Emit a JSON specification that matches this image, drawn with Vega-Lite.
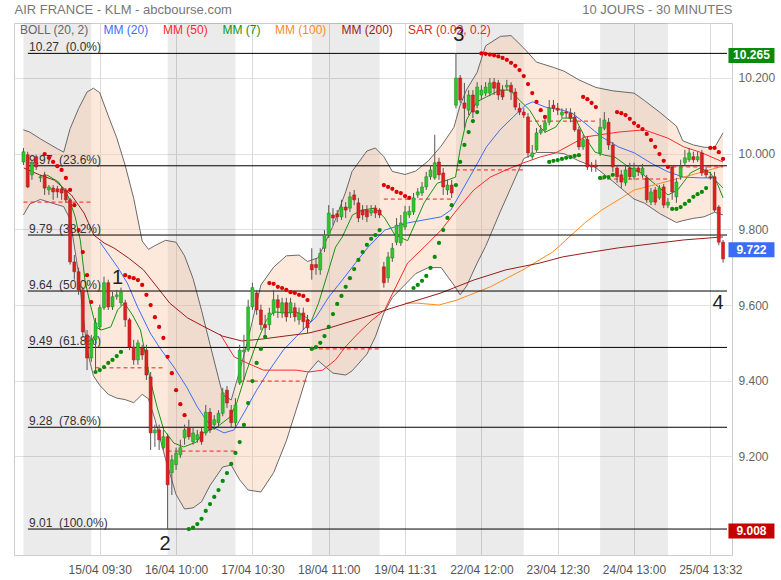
{
"$schema":"https://vega.github.io/schema/vega-lite/v6.json",
"width":718,"height":532,
"autosize":{"type":"none"},
"padding":{"left":14,"top":23,"right":49,"bottom":25},
"background":"white",
"config":{"view":{"stroke":"#cccccc","strokeWidth":1},"font":"Liberation Sans"},
"resolve":{"axis":{"x":"independent","y":"independent"}},
"datasets":{
"days":[{"a":0,"b":16},{"a":34,"b":50},{"a":68,"b":84},{"a":102,"b":118},{"a":136,"b":152}],
"boll":[{"i":0,"u":10.063,"l":9.838},{"i":1.5,"u":10.057,"l":9.867},{"i":4,"u":10.039,"l":9.879},{"i":8,"u":10.013,"l":9.865},{"i":9.5,"u":10.004,"l":9.86},{"i":11,"u":10.066,"l":9.827},{"i":13,"u":10.119,"l":9.683},{"i":15,"u":10.163,"l":9.481},{"i":16.5,"u":10.173,"l":9.413},{"i":18,"u":10.161,"l":9.388},{"i":20,"u":10.1,"l":9.364},{"i":22,"u":10.042,"l":9.354},{"i":24,"u":9.969,"l":9.35},{"i":26,"u":9.882,"l":9.342},{"i":28,"u":9.769,"l":9.364},{"i":29.5,"u":9.747,"l":9.352},{"i":31,"u":9.757,"l":9.298},{"i":33.5,"u":9.771,"l":9.194},{"i":36,"u":9.766,"l":9.099},{"i":38,"u":9.73,"l":9.061},{"i":40,"u":9.67,"l":9.064},{"i":42,"u":9.586,"l":9.08},{"i":44,"u":9.496,"l":9.123},{"i":47,"u":9.363,"l":9.172},{"i":49,"u":9.349,"l":9.177},{"i":51,"u":9.426,"l":9.138},{"i":53,"u":9.511,"l":9.111},{"i":56,"u":9.653,"l":9.106},{"i":59,"u":9.7,"l":9.157},{"i":62,"u":9.73,"l":9.241},{"i":65,"u":9.732,"l":9.347},{"i":67,"u":9.715,"l":9.42},{"i":69.5,"u":9.725,"l":9.453},{"i":73,"u":9.809,"l":9.42},{"i":76,"u":9.899,"l":9.415},{"i":77.5,"u":9.953,"l":9.426},{"i":81,"u":10.007,"l":9.47},{"i":83,"u":10.015,"l":9.516},{"i":85,"u":9.992,"l":9.579},{"i":87,"u":9.953,"l":9.62},{"i":90,"u":9.945,"l":9.654},{"i":92.5,"u":9.954,"l":9.683},{"i":95.5,"u":9.981,"l":9.699},{"i":98.5,"u":10.02,"l":9.699},{"i":101.5,"u":10.069,"l":9.653},{"i":103,"u":10.128,"l":9.627},{"i":104.5,"u":10.169,"l":9.65},{"i":107,"u":10.215,"l":9.711},{"i":109,"u":10.285,"l":9.755},{"i":112.5,"u":10.31,"l":9.848},{"i":115,"u":10.312,"l":9.911},{"i":118,"u":10.279,"l":9.987},{"i":121,"u":10.242,"l":10.003},{"i":125,"u":10.228,"l":10.003},{"i":127.5,"u":10.218,"l":10.0},{"i":131,"u":10.195,"l":9.981},{"i":135,"u":10.175,"l":9.963},{"i":139,"u":10.166,"l":9.927},{"i":144,"u":10.16,"l":9.88},{"i":146.5,"u":10.14,"l":9.869},{"i":150,"u":10.11,"l":9.842},{"i":154,"u":10.073,"l":9.818},{"i":155.5,"u":10.034,"l":9.823},{"i":158,"u":10.023,"l":9.829},{"i":160.5,"u":10.017,"l":9.833},{"i":163,"u":10.016,"l":9.845},{"i":165,"u":10.055,"l":9.838}],
"ma":[
{"s":"MM (7)","i":5.5,"v":9.944},{"s":"MM (7)","i":8.3,"v":9.925},{"s":"MM (7)","i":10.6,"v":9.886},{"s":"MM (7)","i":12.2,"v":9.833},{"s":"MM (7)","i":13.4,"v":9.772},{"s":"MM (7)","i":14.5,"v":9.666},{"s":"MM (7)","i":15.7,"v":9.605},{"s":"MM (7)","i":17.1,"v":9.542},{"s":"MM (7)","i":18.3,"v":9.534},{"s":"MM (7)","i":20.6,"v":9.542},{"s":"MM (7)","i":22.2,"v":9.587},{"s":"MM (7)","i":23.8,"v":9.605},{"s":"MM (7)","i":25.7,"v":9.574},{"s":"MM (7)","i":27.6,"v":9.534},{"s":"MM (7)","i":28.7,"v":9.473},{"s":"MM (7)","i":29.9,"v":9.402},{"s":"MM (7)","i":31.5,"v":9.331},{"s":"MM (7)","i":33.1,"v":9.27},{"s":"MM (7)","i":35.5,"v":9.235},{"s":"MM (7)","i":37.8,"v":9.225},{"s":"MM (7)","i":40.8,"v":9.238},{"s":"MM (7)","i":42.4,"v":9.262},{"s":"MM (7)","i":45.7,"v":9.278},{"s":"MM (7)","i":48.7,"v":9.304},{"s":"MM (7)","i":50.3,"v":9.341},{"s":"MM (7)","i":52.7,"v":9.428},{"s":"MM (7)","i":55,"v":9.5},{"s":"MM (7)","i":57.3,"v":9.56},{"s":"MM (7)","i":59,"v":9.582},{"s":"MM (7)","i":62,"v":9.579},{"s":"MM (7)","i":64.3,"v":9.582},{"s":"MM (7)","i":66.6,"v":9.568},{"s":"MM (7)","i":67.8,"v":9.555},{"s":"MM (7)","i":69.6,"v":9.605},{"s":"MM (7)","i":72,"v":9.693},{"s":"MM (7)","i":73.6,"v":9.753},{"s":"MM (7)","i":75.2,"v":9.78},{"s":"MM (7)","i":77.6,"v":9.838},{"s":"MM (7)","i":79.9,"v":9.851},{"s":"MM (7)","i":82.9,"v":9.856},{"s":"MM (7)","i":85.2,"v":9.83},{"s":"MM (7)","i":87.6,"v":9.785},{"s":"MM (7)","i":90.6,"v":9.77},{"s":"MM (7)","i":94.5,"v":9.87},{"s":"MM (7)","i":97.6,"v":9.922},{"s":"MM (7)","i":99.9,"v":9.93},{"s":"MM (7)","i":101.9,"v":9.938},{"s":"MM (7)","i":103.1,"v":10.018},{"s":"MM (7)","i":104.5,"v":10.089},{"s":"MM (7)","i":106.9,"v":10.137},{"s":"MM (7)","i":109.2,"v":10.15},{"s":"MM (7)","i":112.4,"v":10.168},{"s":"MM (7)","i":114.8,"v":10.168},{"s":"MM (7)","i":116.2,"v":10.15},{"s":"MM (7)","i":119.4,"v":10.115},{"s":"MM (7)","i":121.8,"v":10.07},{"s":"MM (7)","i":123.1,"v":10.057},{"s":"MM (7)","i":125.5,"v":10.07},{"s":"MM (7)","i":127.1,"v":10.094},{"s":"MM (7)","i":130.1,"v":10.094},{"s":"MM (7)","i":132.4,"v":10.044},{"s":"MM (7)","i":134.8,"v":10.004},{"s":"MM (7)","i":137.1,"v":9.996},{"s":"MM (7)","i":139.5,"v":9.991},{"s":"MM (7)","i":142.7,"v":9.965},{"s":"MM (7)","i":145.7,"v":9.949},{"s":"MM (7)","i":148.7,"v":9.922},{"s":"MM (7)","i":152,"v":9.891},{"s":"MM (7)","i":154.3,"v":9.904},{"s":"MM (7)","i":157.3,"v":9.949},{"s":"MM (7)","i":159.6,"v":9.962},{"s":"MM (7)","i":162,"v":9.949},{"s":"MM (7)","i":163.6,"v":9.922},{"s":"MM (7)","i":165,"v":9.883},
{"s":"MM (20)","i":18,"v":9.767},{"s":"MM (20)","i":22.2,"v":9.7},{"s":"MM (20)","i":24.5,"v":9.658},{"s":"MM (20)","i":26.9,"v":9.595},{"s":"MM (20)","i":29.9,"v":9.526},{"s":"MM (20)","i":32.2,"v":9.486},{"s":"MM (20)","i":35.5,"v":9.436},{"s":"MM (20)","i":38.5,"v":9.383},{"s":"MM (20)","i":41,"v":9.331},{"s":"MM (20)","i":43.1,"v":9.296},{"s":"MM (20)","i":44.5,"v":9.278},{"s":"MM (20)","i":47.3,"v":9.262},{"s":"MM (20)","i":49.7,"v":9.27},{"s":"MM (20)","i":52,"v":9.315},{"s":"MM (20)","i":55,"v":9.375},{"s":"MM (20)","i":58,"v":9.428},{"s":"MM (20)","i":61.3,"v":9.481},{"s":"MM (20)","i":64.3,"v":9.516},{"s":"MM (20)","i":66.6,"v":9.542},{"s":"MM (20)","i":69,"v":9.568},{"s":"MM (20)","i":72,"v":9.621},{"s":"MM (20)","i":75.2,"v":9.666},{"s":"MM (20)","i":78.3,"v":9.711},{"s":"MM (20)","i":81.3,"v":9.753},{"s":"MM (20)","i":85.2,"v":9.798},{"s":"MM (20)","i":90.6,"v":9.817},{"s":"MM (20)","i":98.5,"v":9.833},{"s":"MM (20)","i":100.8,"v":9.851},{"s":"MM (20)","i":103.1,"v":9.896},{"s":"MM (20)","i":106.2,"v":9.957},{"s":"MM (20)","i":109.2,"v":10.018},{"s":"MM (20)","i":112.4,"v":10.063},{"s":"MM (20)","i":115.5,"v":10.097},{"s":"MM (20)","i":118.5,"v":10.129},{"s":"MM (20)","i":120.1,"v":10.137},{"s":"MM (20)","i":123.1,"v":10.123},{"s":"MM (20)","i":127.1,"v":10.115},{"s":"MM (20)","i":129.4,"v":10.107},{"s":"MM (20)","i":132.4,"v":10.081},{"s":"MM (20)","i":136.4,"v":10.044},{"s":"MM (20)","i":140.3,"v":10.018},{"s":"MM (20)","i":144.1,"v":10.002},{"s":"MM (20)","i":148,"v":9.975},{"s":"MM (20)","i":152,"v":9.952},{"s":"MM (20)","i":155.7,"v":9.938},{"s":"MM (20)","i":159.6,"v":9.936},{"s":"MM (20)","i":162.7,"v":9.936},{"s":"MM (20)","i":165,"v":9.909},
{"s":"MM (50)","i":46.4,"v":9.523},{"s":"MM (50)","i":49.7,"v":9.463},{"s":"MM (50)","i":52.7,"v":9.447},{"s":"MM (50)","i":56.6,"v":9.428},{"s":"MM (50)","i":60.3,"v":9.428},{"s":"MM (50)","i":64.3,"v":9.428},{"s":"MM (50)","i":67.3,"v":9.423},{"s":"MM (50)","i":70.6,"v":9.428},{"s":"MM (50)","i":73.6,"v":9.455},{"s":"MM (50)","i":75.9,"v":9.489},{"s":"MM (50)","i":79,"v":9.526},{"s":"MM (50)","i":82.2,"v":9.56},{"s":"MM (50)","i":85.2,"v":9.587},{"s":"MM (50)","i":86.9,"v":9.627},{"s":"MM (50)","i":90.6,"v":9.711},{"s":"MM (50)","i":94.5,"v":9.753},{"s":"MM (50)","i":98.5,"v":9.798},{"s":"MM (50)","i":102.2,"v":9.851},{"s":"MM (50)","i":106.2,"v":9.904},{"s":"MM (50)","i":110.1,"v":9.938},{"s":"MM (50)","i":113.8,"v":9.957},{"s":"MM (50)","i":117.8,"v":9.975},{"s":"MM (50)","i":121.8,"v":9.991},{"s":"MM (50)","i":125.5,"v":10.002},{"s":"MM (50)","i":132.4,"v":10.044},{"s":"MM (50)","i":140.3,"v":10.057},{"s":"MM (50)","i":146.4,"v":10.063},{"s":"MM (50)","i":152,"v":10.041},{"s":"MM (50)","i":155.7,"v":10.018},{"s":"MM (50)","i":159.6,"v":10.004},{"s":"MM (50)","i":165,"v":9.978},
{"s":"MM (100)","i":90,"v":9.605},{"s":"MM (100)","i":92.9,"v":9.605},{"s":"MM (100)","i":98,"v":9.6},{"s":"MM (100)","i":102.2,"v":9.613},{"s":"MM (100)","i":110.1,"v":9.648},{"s":"MM (100)","i":117.8,"v":9.693},{"s":"MM (100)","i":124.8,"v":9.74},{"s":"MM (100)","i":132.4,"v":9.817},{"s":"MM (100)","i":136.4,"v":9.851},{"s":"MM (100)","i":144.1,"v":9.904},{"s":"MM (100)","i":150.3,"v":9.922},{"s":"MM (100)","i":155.7,"v":9.938},{"s":"MM (100)","i":165,"v":9.967},
{"s":"MM (200)","i":0.1,"v":9.962},{"s":"MM (200)","i":3.8,"v":9.944},{"s":"MM (200)","i":7.3,"v":9.93},{"s":"MM (200)","i":11.3,"v":9.891},{"s":"MM (200)","i":14.3,"v":9.843},{"s":"MM (200)","i":16.6,"v":9.785},{"s":"MM (200)","i":19,"v":9.764},{"s":"MM (200)","i":21.3,"v":9.751},{"s":"MM (200)","i":24.8,"v":9.724},{"s":"MM (200)","i":28.3,"v":9.693},{"s":"MM (200)","i":31.7,"v":9.645},{"s":"MM (200)","i":34.5,"v":9.605},{"s":"MM (200)","i":38.7,"v":9.566},{"s":"MM (200)","i":42.2,"v":9.545},{"s":"MM (200)","i":46.9,"v":9.518},{"s":"MM (200)","i":51.5,"v":9.505},{"s":"MM (200)","i":56.2,"v":9.51},{"s":"MM (200)","i":60.3,"v":9.516},{"s":"MM (200)","i":67.3,"v":9.526},{"s":"MM (200)","i":72,"v":9.539},{"s":"MM (200)","i":79.9,"v":9.566},{"s":"MM (200)","i":86.9,"v":9.592},{"s":"MM (200)","i":98.5,"v":9.632},{"s":"MM (200)","i":106.2,"v":9.666},{"s":"MM (200)","i":113.8,"v":9.693},{"s":"MM (200)","i":121.8,"v":9.711},{"s":"MM (200)","i":127.1,"v":9.727},{"s":"MM (200)","i":132.9,"v":9.738},{"s":"MM (200)","i":140.3,"v":9.751},{"s":"MM (200)","i":155.7,"v":9.772},{"s":"MM (200)","i":165,"v":9.78}
],
"fib":[{"v":10.265,"t":"10.27\u00a0 (0.0%)"},{"v":9.968,"t":"9.97\u00a0 (23.6%)"},{"v":9.785,"t":"9.79\u00a0 (38.2%)"},{"v":9.637,"t":"9.64\u00a0 (50.0%)"},{"v":9.488,"t":"9.49\u00a0 (61.8%)"},{"v":9.277,"t":"9.28\u00a0 (78.6%)"},{"v":9.008,"t":"9.01\u00a0 (100.0%)"}],
"dashed":[{"a":0,"b":16,"v":9.872},{"a":17,"b":33,"v":9.434},{"a":34,"b":50,"v":9.214},{"a":51,"b":67,"v":9.399},{"a":68,"b":84,"v":9.484},{"a":85,"b":101,"v":9.88},{"a":102,"b":118,"v":9.957},{"a":119,"b":135,"v":10.086},{"a":136,"b":152,"v":9.933},{"a":153,"b":165,"v":9.965}],
"candles":[
{"i":0,"o":9.978,"h":10.015,"l":9.97,"c":10.005},{"i":1,"o":9.997,"h":10.005,"l":9.909,"c":9.912},{"i":2,"o":9.944,"h":9.984,"l":9.931,"c":9.976},{"i":3,"o":9.992,"h":9.997,"l":9.957,"c":9.965},{"i":4,"o":9.936,"h":9.944,"l":9.925,"c":9.939},{"i":5,"o":9.944,"h":9.952,"l":9.891,"c":9.909},{"i":6,"o":9.904,"h":9.917,"l":9.891,"c":9.912},{"i":7,"o":9.909,"h":9.917,"l":9.878,"c":9.899},{"i":8,"o":9.907,"h":9.915,"l":9.883,"c":9.899},{"i":9,"o":9.907,"h":9.912,"l":9.878,"c":9.896},{"i":10,"o":9.904,"h":9.909,"l":9.87,"c":9.878},{"i":11,"o":9.878,"h":9.883,"l":9.707,"c":9.714},{"i":12,"o":9.714,"h":9.732,"l":9.667,"c":9.688},{"i":13,"o":9.688,"h":9.699,"l":9.627,"c":9.64},{"i":14,"o":9.64,"h":9.648,"l":9.513,"c":9.529},{"i":15,"o":9.521,"h":9.534,"l":9.428,"c":9.46},{"i":16,"o":9.46,"h":9.521,"l":9.45,"c":9.508},
{"i":17,"o":9.508,"h":9.566,"l":9.428,"c":9.553},{"i":18,"o":9.542,"h":9.601,"l":9.534,"c":9.593},{"i":19,"o":9.593,"h":9.675,"l":9.587,"c":9.659},{"i":20,"o":9.659,"h":9.667,"l":9.587,"c":9.595},{"i":21,"o":9.595,"h":9.635,"l":9.587,"c":9.622},{"i":22,"o":9.622,"h":9.64,"l":9.614,"c":9.627},{"i":23,"o":9.606,"h":9.646,"l":9.598,"c":9.635},{"i":24,"o":9.606,"h":9.614,"l":9.542,"c":9.561},{"i":25,"o":9.561,"h":9.566,"l":9.481,"c":9.489},{"i":26,"o":9.489,"h":9.508,"l":9.442,"c":9.455},{"i":27,"o":9.455,"h":9.508,"l":9.442,"c":9.5},{"i":28,"o":9.487,"h":9.495,"l":9.455,"c":9.468},{"i":29,"o":9.481,"h":9.495,"l":9.402,"c":9.415},{"i":30,"o":9.41,"h":9.423,"l":9.217,"c":9.262},{"i":31,"o":9.262,"h":9.284,"l":9.225,"c":9.27},{"i":32,"o":9.27,"h":9.284,"l":9.217,"c":9.244},{"i":33,"o":9.223,"h":9.27,"l":9.217,"c":9.252},
{"i":34,"o":9.252,"h":9.26,"l":9.008,"c":9.125},{"i":35,"o":9.157,"h":9.204,"l":9.098,"c":9.191},{"i":36,"o":9.178,"h":9.223,"l":9.164,"c":9.209},{"i":37,"o":9.204,"h":9.244,"l":9.196,"c":9.223},{"i":38,"o":9.249,"h":9.284,"l":9.231,"c":9.27},{"i":39,"o":9.276,"h":9.297,"l":9.244,"c":9.252},{"i":40,"o":9.239,"h":9.276,"l":9.231,"c":9.262},{"i":41,"o":9.244,"h":9.27,"l":9.236,"c":9.257},{"i":42,"o":9.265,"h":9.276,"l":9.231,"c":9.239},{"i":43,"o":9.262,"h":9.336,"l":9.255,"c":9.317},{"i":44,"o":9.317,"h":9.328,"l":9.262,"c":9.27},{"i":45,"o":9.284,"h":9.309,"l":9.27,"c":9.297},{"i":46,"o":9.289,"h":9.322,"l":9.276,"c":9.314},{"i":47,"o":9.314,"h":9.381,"l":9.306,"c":9.368},{"i":48,"o":9.375,"h":9.386,"l":9.328,"c":9.341},{"i":49,"o":9.322,"h":9.336,"l":9.276,"c":9.289},{"i":50,"o":9.289,"h":9.354,"l":9.278,"c":9.336},
{"i":51,"o":9.394,"h":9.495,"l":9.389,"c":9.481},{"i":52,"o":9.476,"h":9.521,"l":9.402,"c":9.481},{"i":53,"o":9.481,"h":9.614,"l":9.476,"c":9.595},{"i":54,"o":9.595,"h":9.659,"l":9.587,"c":9.646},{"i":55,"o":9.632,"h":9.64,"l":9.574,"c":9.587},{"i":56,"o":9.587,"h":9.601,"l":9.534,"c":9.548},{"i":57,"o":9.548,"h":9.574,"l":9.521,"c":9.54},{"i":58,"o":9.548,"h":9.593,"l":9.534,"c":9.579},{"i":59,"o":9.579,"h":9.64,"l":9.572,"c":9.614},{"i":60,"o":9.614,"h":9.627,"l":9.566,"c":9.593},{"i":61,"o":9.579,"h":9.619,"l":9.566,"c":9.606},{"i":62,"o":9.606,"h":9.619,"l":9.556,"c":9.569},{"i":63,"o":9.579,"h":9.619,"l":9.566,"c":9.606},{"i":64,"o":9.593,"h":9.606,"l":9.556,"c":9.569},{"i":65,"o":9.561,"h":9.593,"l":9.548,"c":9.579},{"i":66,"o":9.579,"h":9.593,"l":9.534,"c":9.556},{"i":67,"o":9.561,"h":9.574,"l":9.526,"c":9.54},
{"i":68,"o":9.707,"h":9.75,"l":9.667,"c":9.693},{"i":69,"o":9.707,"h":9.724,"l":9.68,"c":9.699},{"i":70,"o":9.693,"h":9.75,"l":9.68,"c":9.737},{"i":71,"o":9.75,"h":9.798,"l":9.74,"c":9.785},{"i":72,"o":9.785,"h":9.864,"l":9.777,"c":9.843},{"i":73,"o":9.838,"h":9.856,"l":9.811,"c":9.83},{"i":74,"o":9.841,"h":9.851,"l":9.819,"c":9.833},{"i":75,"o":9.833,"h":9.878,"l":9.825,"c":9.859},{"i":76,"o":9.859,"h":9.872,"l":9.83,"c":9.851},{"i":77,"o":9.856,"h":9.899,"l":9.846,"c":9.886},{"i":78,"o":9.891,"h":9.904,"l":9.864,"c":9.878},{"i":79,"o":9.87,"h":9.883,"l":9.819,"c":9.83},{"i":80,"o":9.851,"h":9.864,"l":9.825,"c":9.838},{"i":81,"o":9.851,"h":9.864,"l":9.819,"c":9.833},{"i":82,"o":9.843,"h":9.864,"l":9.835,"c":9.851},{"i":83,"o":9.856,"h":9.864,"l":9.83,"c":9.843},{"i":84,"o":9.851,"h":9.856,"l":9.83,"c":9.838},
{"i":85,"o":9.701,"h":9.714,"l":9.646,"c":9.659},{"i":86,"o":9.672,"h":9.74,"l":9.659,"c":9.727},{"i":87,"o":9.724,"h":9.764,"l":9.714,"c":9.75},{"i":88,"o":9.766,"h":9.83,"l":9.758,"c":9.811},{"i":89,"o":9.764,"h":9.838,"l":9.756,"c":9.817},{"i":90,"o":9.806,"h":9.862,"l":9.798,"c":9.846},{"i":91,"o":9.838,"h":9.862,"l":9.83,"c":9.848},{"i":92,"o":9.846,"h":9.896,"l":9.838,"c":9.883},{"i":93,"o":9.891,"h":9.909,"l":9.883,"c":9.899},{"i":94,"o":9.896,"h":9.925,"l":9.888,"c":9.912},{"i":95,"o":9.912,"h":9.952,"l":9.904,"c":9.939},{"i":96,"o":9.939,"h":9.97,"l":9.931,"c":9.957},{"i":97,"o":9.936,"h":10.05,"l":9.931,"c":9.976},{"i":98,"o":9.978,"h":9.989,"l":9.931,"c":9.944},{"i":99,"o":9.949,"h":9.962,"l":9.891,"c":9.912},{"i":100,"o":9.904,"h":9.931,"l":9.891,"c":9.917},{"i":101,"o":9.917,"h":9.931,"l":9.883,"c":9.896},
{"i":102,"o":10.128,"h":10.265,"l":10.12,"c":10.2},{"i":103,"o":10.2,"h":10.208,"l":10.134,"c":10.142},{"i":104,"o":10.134,"h":10.187,"l":10.067,"c":10.12},{"i":105,"o":10.115,"h":10.168,"l":10.102,"c":10.155},{"i":106,"o":10.155,"h":10.168,"l":10.094,"c":10.11},{"i":107,"o":10.128,"h":10.189,"l":10.12,"c":10.176},{"i":108,"o":10.155,"h":10.181,"l":10.142,"c":10.168},{"i":109,"o":10.16,"h":10.189,"l":10.152,"c":10.176},{"i":110,"o":10.16,"h":10.2,"l":10.152,"c":10.187},{"i":111,"o":10.189,"h":10.2,"l":10.155,"c":10.173},{"i":112,"o":10.187,"h":10.195,"l":10.142,"c":10.155},{"i":113,"o":10.168,"h":10.181,"l":10.142,"c":10.15},{"i":114,"o":10.176,"h":10.195,"l":10.168,"c":10.181},{"i":115,"o":10.181,"h":10.189,"l":10.142,"c":10.163},{"i":116,"o":10.163,"h":10.173,"l":10.115,"c":10.123},{"i":117,"o":10.12,"h":10.134,"l":10.102,"c":10.11},{"i":118,"o":10.11,"h":10.12,"l":10.094,"c":10.102},
{"i":119,"o":10.097,"h":10.107,"l":9.989,"c":10.002},{"i":120,"o":9.992,"h":10.023,"l":9.984,"c":10.002},{"i":121,"o":10.01,"h":10.068,"l":10.005,"c":10.055},{"i":122,"o":10.055,"h":10.076,"l":10.05,"c":10.063},{"i":123,"o":10.063,"h":10.094,"l":10.055,"c":10.082},{"i":124,"o":10.083,"h":10.142,"l":10.075,"c":10.12},{"i":125,"o":10.128,"h":10.142,"l":10.11,"c":10.12},{"i":126,"o":10.12,"h":10.134,"l":10.102,"c":10.115},{"i":127,"o":10.102,"h":10.12,"l":10.094,"c":10.11},{"i":128,"o":10.11,"h":10.12,"l":10.094,"c":10.107},{"i":129,"o":10.107,"h":10.12,"l":10.083,"c":10.094},{"i":130,"o":10.097,"h":10.11,"l":10.058,"c":10.063},{"i":131,"o":10.063,"h":10.071,"l":10.01,"c":10.018},{"i":132,"o":10.018,"h":10.05,"l":10.01,"c":10.037},{"i":133,"o":10.037,"h":10.045,"l":9.957,"c":9.965},{"i":134,"o":9.97,"h":9.978,"l":9.952,"c":9.965},{"i":135,"o":9.97,"h":9.984,"l":9.952,"c":9.965},
{"i":136,"o":10.002,"h":10.094,"l":9.994,"c":10.07},{"i":137,"o":10.067,"h":10.11,"l":10.062,"c":10.089},{"i":138,"o":10.083,"h":10.094,"l":10.01,"c":10.023},{"i":139,"o":10.023,"h":10.031,"l":9.952,"c":9.965},{"i":140,"o":9.962,"h":9.97,"l":9.923,"c":9.939},{"i":141,"o":9.944,"h":9.957,"l":9.909,"c":9.925},{"i":142,"o":9.923,"h":9.97,"l":9.915,"c":9.957},{"i":143,"o":9.962,"h":9.976,"l":9.931,"c":9.939},{"i":144,"o":9.939,"h":9.976,"l":9.931,"c":9.962},{"i":145,"o":9.962,"h":9.97,"l":9.941,"c":9.952},{"i":146,"o":9.944,"h":9.973,"l":9.936,"c":9.962},{"i":147,"o":9.936,"h":9.944,"l":9.87,"c":9.878},{"i":148,"o":9.872,"h":9.909,"l":9.864,"c":9.899},{"i":149,"o":9.904,"h":9.912,"l":9.864,"c":9.872},{"i":150,"o":9.883,"h":9.917,"l":9.878,"c":9.909},{"i":151,"o":9.912,"h":9.92,"l":9.856,"c":9.864},{"i":152,"o":9.864,"h":9.883,"l":9.856,"c":9.872},
{"i":153,"o":9.965,"h":9.97,"l":9.878,"c":9.899},{"i":154,"o":9.886,"h":9.936,"l":9.87,"c":9.925},{"i":155,"o":9.939,"h":9.984,"l":9.931,"c":9.965},{"i":156,"o":9.976,"h":10.01,"l":9.97,"c":9.989},{"i":157,"o":9.984,"h":10.015,"l":9.978,"c":10.002},{"i":158,"o":9.992,"h":10.005,"l":9.976,"c":9.984},{"i":159,"o":9.984,"h":10.005,"l":9.978,"c":9.992},{"i":160,"o":10.002,"h":10.01,"l":9.941,"c":9.949},{"i":161,"o":9.957,"h":9.97,"l":9.936,"c":9.944},{"i":162,"o":9.939,"h":9.952,"l":9.931,"c":9.936},{"i":163,"o":9.939,"h":9.952,"l":9.846,"c":9.851},{"i":164,"o":9.859,"h":9.864,"l":9.758,"c":9.766},{"i":165,"o":9.766,"h":9.772,"l":9.712,"c":9.722}
],
"sar":[
{"i":5,"v":9.999,"t":"r"},{"i":6,"v":9.989,"t":"r"},{"i":7,"v":9.978,"t":"r"},{"i":8,"v":9.967,"t":"r"},{"i":9,"v":9.957,"t":"r"},{"i":10,"v":9.936,"t":"r"},{"i":11,"v":9.904,"t":"r"},{"i":12,"v":9.864,"t":"r"},{"i":13,"v":9.798,"t":"r"},{"i":14,"v":9.74,"t":"r"},{"i":15,"v":9.679,"t":"r"},{"i":16,"v":9.608,"t":"r"},
{"i":17,"v":9.423,"t":"g"},{"i":18,"v":9.428,"t":"g"},{"i":19,"v":9.436,"t":"g"},{"i":20,"v":9.447,"t":"g"},{"i":21,"v":9.455,"t":"g"},{"i":22,"v":9.465,"t":"g"},{"i":23,"v":9.476,"t":"g"},
{"i":24,"v":9.679,"t":"r"},{"i":25,"v":9.674,"t":"r"},{"i":26,"v":9.671,"t":"r"},{"i":27,"v":9.666,"t":"r"},{"i":28,"v":9.653,"t":"r"},{"i":29,"v":9.627,"t":"r"},{"i":30,"v":9.6,"t":"r"},{"i":31,"v":9.568,"t":"r"},{"i":32,"v":9.542,"t":"r"},{"i":33,"v":9.513,"t":"r"},{"i":34,"v":9.463,"t":"r"},{"i":35,"v":9.42,"t":"r"},{"i":36,"v":9.375,"t":"r"},{"i":37,"v":9.338,"t":"r"},{"i":38,"v":9.309,"t":"r"},
{"i":39,"v":9.008,"t":"g"},{"i":40,"v":9.012,"t":"g"},{"i":41,"v":9.021,"t":"g"},{"i":42,"v":9.035,"t":"g"},{"i":43,"v":9.056,"t":"g"},{"i":44,"v":9.074,"t":"g"},{"i":45,"v":9.093,"t":"g"},{"i":46,"v":9.111,"t":"g"},{"i":47,"v":9.135,"t":"g"},{"i":48,"v":9.156,"t":"g"},{"i":49,"v":9.18,"t":"g"},{"i":50,"v":9.209,"t":"g"},{"i":51,"v":9.238,"t":"g"},{"i":52,"v":9.283,"t":"g"},{"i":53,"v":9.341,"t":"g"},{"i":54,"v":9.399,"t":"g"},{"i":55,"v":9.447,"t":"g"},{"i":56,"v":9.484,"t":"g"},{"i":57,"v":9.516,"t":"g"},
{"i":58,"v":9.658,"t":"r"},{"i":59,"v":9.656,"t":"r"},{"i":60,"v":9.648,"t":"r"},{"i":61,"v":9.645,"t":"r"},{"i":62,"v":9.64,"t":"r"},{"i":63,"v":9.634,"t":"r"},{"i":64,"v":9.632,"t":"r"},{"i":65,"v":9.627,"t":"r"},{"i":66,"v":9.624,"t":"r"},{"i":67,"v":9.613,"t":"r"},
{"i":68,"v":9.484,"t":"g"},{"i":69,"v":9.489,"t":"g"},{"i":70,"v":9.5,"t":"g"},{"i":71,"v":9.518,"t":"g"},{"i":72,"v":9.542,"t":"g"},{"i":73,"v":9.576,"t":"g"},{"i":74,"v":9.603,"t":"g"},{"i":75,"v":9.624,"t":"g"},{"i":76,"v":9.648,"t":"g"},{"i":77,"v":9.671,"t":"g"},{"i":78,"v":9.695,"t":"g"},{"i":79,"v":9.719,"t":"g"},{"i":80,"v":9.74,"t":"g"},{"i":81,"v":9.759,"t":"g"},{"i":82,"v":9.775,"t":"g"},{"i":83,"v":9.785,"t":"g"},{"i":84,"v":9.798,"t":"g"},
{"i":85,"v":9.917,"t":"r"},{"i":86,"v":9.912,"t":"r"},{"i":87,"v":9.907,"t":"r"},{"i":88,"v":9.899,"t":"r"},{"i":89,"v":9.896,"t":"r"},{"i":90,"v":9.888,"t":"r"},{"i":91,"v":9.883,"t":"r"},
{"i":92,"v":9.645,"t":"g"},{"i":93,"v":9.653,"t":"g"},{"i":94,"v":9.664,"t":"g"},{"i":95,"v":9.677,"t":"g"},{"i":96,"v":9.698,"t":"g"},{"i":97,"v":9.727,"t":"g"},{"i":98,"v":9.764,"t":"g"},{"i":99,"v":9.798,"t":"g"},{"i":100,"v":9.83,"t":"g"},{"i":101,"v":9.864,"t":"g"},{"i":102,"v":9.917,"t":"g"},{"i":103,"v":9.978,"t":"g"},{"i":104,"v":10.023,"t":"g"},{"i":105,"v":10.057,"t":"g"},{"i":106,"v":10.086,"t":"g"},{"i":107,"v":10.11,"t":"g"},
{"i":108,"v":10.265,"t":"r"},{"i":109,"v":10.264,"t":"r"},{"i":110,"v":10.262,"t":"r"},{"i":111,"v":10.26,"t":"r"},{"i":112,"v":10.257,"t":"r"},{"i":113,"v":10.253,"t":"r"},{"i":114,"v":10.248,"t":"r"},{"i":115,"v":10.24,"t":"r"},{"i":116,"v":10.232,"t":"r"},{"i":117,"v":10.221,"t":"r"},{"i":118,"v":10.205,"t":"r"},{"i":119,"v":10.184,"t":"r"},{"i":120,"v":10.16,"t":"r"},{"i":121,"v":10.137,"t":"r"},{"i":122,"v":10.115,"t":"r"},{"i":123,"v":10.097,"t":"r"},
{"i":124,"v":9.978,"t":"g"},{"i":125,"v":9.981,"t":"g"},{"i":126,"v":9.983,"t":"g"},{"i":127,"v":9.986,"t":"g"},{"i":128,"v":9.989,"t":"g"},{"i":129,"v":9.991,"t":"g"},{"i":130,"v":9.994,"t":"g"},{"i":131,"v":9.996,"t":"g"},
{"i":132,"v":10.15,"t":"r"},{"i":133,"v":10.144,"t":"r"},{"i":134,"v":10.134,"t":"r"},{"i":135,"v":10.123,"t":"r"},
{"i":136,"v":9.936,"t":"g"},{"i":137,"v":9.938,"t":"g"},{"i":138,"v":9.938,"t":"g"},{"i":139,"v":9.944,"t":"g"},
{"i":140,"v":10.11,"t":"r"},{"i":141,"v":10.107,"t":"r"},{"i":142,"v":10.102,"t":"r"},{"i":143,"v":10.092,"t":"r"},{"i":144,"v":10.081,"t":"r"},{"i":145,"v":10.073,"t":"r"},{"i":146,"v":10.065,"t":"r"},{"i":147,"v":10.052,"t":"r"},{"i":148,"v":10.036,"t":"r"},{"i":149,"v":10.018,"t":"r"},{"i":150,"v":9.999,"t":"r"},{"i":151,"v":9.981,"t":"r"},{"i":152,"v":9.965,"t":"r"},
{"i":153,"v":9.854,"t":"g"},{"i":154,"v":9.854,"t":"g"},{"i":155,"v":9.859,"t":"g"},{"i":156,"v":9.867,"t":"g"},{"i":157,"v":9.875,"t":"g"},{"i":158,"v":9.886,"t":"g"},{"i":159,"v":9.893,"t":"g"},{"i":160,"v":9.899,"t":"g"},{"i":161,"v":9.909,"t":"g"},
{"i":162,"v":10.015,"t":"r"},{"i":163,"v":10.015,"t":"r"},{"i":164,"v":10.004,"t":"r"},{"i":165,"v":9.986,"t":"r"}
],
"ann":[{"i":22.2,"v":9.671,"t":"1"},{"i":33.4,"v":8.968,"t":"2"},{"i":102.7,"v":10.314,"t":"3"},{"i":163.8,"v":9.605,"t":"4"}],
"boxes":[{"v":10.265,"t":"10.265","k":"hi"},{"v":9.008,"t":"9.008","k":"lo"}],
"last":[{"v":9.722,"t":"9.722"}]
},
"layer":[
{"data":{"name":"days"},"mark":{"type":"rect","fill":"#000000","opacity":0.08},
 "encoding":{"x":{"field":"a","type":"quantitative","scale":{"domain":[-1.05,165.93],"nice":false,"zero":false},"axis":null},"x2":{"field":"b"}}},
{"data":{"name":"boll"},"mark":{"type":"area","fill":"#f7c4a2","opacity":0.38},
 "encoding":{"x":{"field":"i","type":"quantitative","scale":{"domain":[-1.05,165.93],"nice":false,"zero":false},"axis":null},"y":{"field":"u","type":"quantitative","scale":{"domain":[8.9394,10.3453],"nice":false,"zero":false},"axis":null},"y2":{"field":"l"}}},
{"data":{"name":"boll"},"mark":{"type":"line","color":"#5a5a5a","strokeWidth":0.9},
 "encoding":{"x":{"field":"i","type":"quantitative","scale":{"domain":[-1.05,165.93],"nice":false,"zero":false},"axis":null},"y":{"field":"u","type":"quantitative","scale":{"domain":[8.9394,10.3453],"nice":false,"zero":false},"axis":null}}},
{"data":{"name":"boll"},"mark":{"type":"line","color":"#5a5a5a","strokeWidth":0.9},
 "encoding":{"x":{"field":"i","type":"quantitative","scale":{"domain":[-1.05,165.93],"nice":false,"zero":false},"axis":null},"y":{"field":"l","type":"quantitative","scale":{"domain":[8.9394,10.3453],"nice":false,"zero":false},"axis":null}}},
{"data":{"name":"ma"},"mark":{"type":"line","strokeWidth":1},
 "encoding":{"x":{"field":"i","type":"quantitative","scale":{"domain":[-1.05,165.93],"nice":false,"zero":false},"axis":null},"y":{"field":"v","type":"quantitative","scale":{"domain":[8.9394,10.3453],"nice":false,"zero":false},"axis":null},
 "color":{"field":"s","type":"nominal","scale":{"domain":["BOLL (20, 2)","MM (20)","MM (50)","MM (7)","MM (100)","MM (200)","SAR (0.02, 0.2)"],"range":["#666666","#3f6df5","#ff2a2a","#149414","#ff8a1a","#9a1c1c","#e32727"]},
  "legend":{"orient":"none","legendX":-6,"legendY":1,"direction":"horizontal","title":null,"symbolSize":0,"symbolOpacity":0,"symbolStrokeWidth":0,"labelOffset":0,"columnPadding":2.5,"labelFontSize":12,"labelFont":"Liberation Sans","padding":0,"labelLimit":200,"encode":{"labels":{"update":{"fill":{"scale":"color","field":"value"}}}}}}}},
{"data":{"name":"fib"},"mark":{"type":"rule","color":"#000000","strokeWidth":1},
 "encoding":{"x":{"datum":1.05,"type":"quantitative","scale":{"domain":[-1.05,165.93],"nice":false,"zero":false},"axis":null},"x2":{"datum":165.93},"y":{"field":"v","type":"quantitative","scale":{"domain":[8.9394,10.3453],"nice":false,"zero":false},"axis":null}}},
{"data":{"name":"fib"},"mark":{"type":"text","align":"left","baseline":"alphabetic","dy":-2,"fontSize":12,"color":"#333333"},
 "encoding":{"x":{"datum":1.3,"type":"quantitative","scale":{"domain":[-1.05,165.93],"nice":false,"zero":false},"axis":null},"y":{"field":"v","type":"quantitative","scale":{"domain":[8.9394,10.3453],"nice":false,"zero":false},"axis":null},"text":{"field":"t"}}},
{"data":{"name":"dashed"},"mark":{"type":"rule","color":"#ff1a1a","strokeWidth":1,"strokeDash":[4,3]},
 "encoding":{"x":{"field":"a","type":"quantitative","scale":{"domain":[-1.05,165.93],"nice":false,"zero":false},"axis":null},"x2":{"field":"b"},"y":{"field":"v","type":"quantitative","scale":{"domain":[8.9394,10.3453],"nice":false,"zero":false},"axis":null}}},
{"data":{"name":"candles"},"mark":{"type":"rule","color":"#555555","strokeWidth":1},
 "encoding":{"x":{"field":"i","type":"quantitative","scale":{"domain":[-1.05,165.93],"nice":false,"zero":false},
   "axis":{"values":[18,36,54,72,90,108,126,144,162],"labelExpr":"datum.value == 18 ? '15/04 09:30' : datum.value == 36 ? '16/04 10:00' : datum.value == 54 ? '17/04 10:30' : datum.value == 72 ? '18/04 11:00' : datum.value == 90 ? '19/04 11:31' : datum.value == 108 ? '22/04 12:00' : datum.value == 126 ? '23/04 12:30' : datum.value == 144 ? '24/04 13:00' : '25/04 13:32'","grid":true,"gridColor":"#d9d9d9","ticks":false,"domain":false,"labelPadding":9,"labelFontSize":12,"labelColor":"#555555","labelFlush":false,"labelOverlap":false,"title":"AIR FRANCE - KLM - abcbourse.com","titleX":0,"titleY":-546,"titleAlign":"left","titleBaseline":"middle","titleFontSize":13,"titleFontWeight":"normal","titleColor":"#777777"}},
  "y":{"field":"l","type":"quantitative","scale":{"domain":[8.9394,10.3453],"nice":false,"zero":false},
   "axis":{"orient":"right","values":[9.2,9.4,9.6,9.8,10,10.2],"format":".3f","grid":true,"gridColor":"#e0e0e0","ticks":false,"domain":false,"labelPadding":6,"labelFontSize":12,"labelColor":"#666666","labelFlush":false,"labelOverlap":false,"title":"10 JOURS - 30 MINUTES","titleAngle":0,"titleX":0,"titleY":-14,"titleAlign":"right","titleBaseline":"middle","titleFontSize":13,"titleFontWeight":"normal","titleColor":"#777777"}},
  "y2":{"field":"h"}}},
{"data":{"name":"candles"},"mark":{"type":"bar","size":3,"strokeWidth":0.5},
 "encoding":{"x":{"field":"i","type":"quantitative","scale":{"domain":[-1.05,165.93],"nice":false,"zero":false},"axis":null},"y":{"field":"o","type":"quantitative","scale":{"domain":[8.9394,10.3453],"nice":false,"zero":false},"axis":null},"y2":{"field":"c"},
  "fill":{"condition":{"test":"datum.c >= datum.o","value":"#2ec52e"},"value":"#dd2020"},
  "stroke":{"condition":{"test":"datum.c >= datum.o","value":"#1a8a1a"},"value":"#a01515"}}},
{"data":{"name":"sar"},"mark":{"type":"circle","size":18,"opacity":1},
 "encoding":{"x":{"field":"i","type":"quantitative","scale":{"domain":[-1.05,165.93],"nice":false,"zero":false},"axis":null},"y":{"field":"v","type":"quantitative","scale":{"domain":[8.9394,10.3453],"nice":false,"zero":false},"axis":null},
  "color":{"condition":{"test":"datum.t == 'g'","value":"#0a8a0a"},"value":"#dd0000"}}},
{"data":{"name":"ann"},"mark":{"type":"text","fontSize":20,"color":"#222222","align":"center","baseline":"middle"},
 "encoding":{"x":{"field":"i","type":"quantitative","scale":{"domain":[-1.05,165.93],"nice":false,"zero":false},"axis":null},"y":{"field":"v","type":"quantitative","scale":{"domain":[8.9394,10.3453],"nice":false,"zero":false},"axis":null},"text":{"field":"t"}}},
{"data":{"name":"boxes"},"mark":{"type":"rect","width":46,"height":15,"yOffset":2},
 "encoding":{"x":{"datum":171.7,"type":"quantitative","scale":{"domain":[-1.05,165.93],"nice":false,"zero":false},"axis":null},"y":{"field":"v","type":"quantitative","scale":{"domain":[8.9394,10.3453],"nice":false,"zero":false},"axis":null},
  "color":{"condition":{"test":"datum.k == 'hi'","value":"#0a8a0a"},"value":"#c40000"}}},
{"data":{"name":"boxes"},"mark":{"type":"text","fontSize":12,"fontWeight":"bold","color":"#ffffff","align":"center","baseline":"middle","dy":2},
 "encoding":{"x":{"datum":171.7,"type":"quantitative","scale":{"domain":[-1.05,165.93],"nice":false,"zero":false},"axis":null},"y":{"field":"v","type":"quantitative","scale":{"domain":[8.9394,10.3453],"nice":false,"zero":false},"axis":null},"text":{"field":"t"}}},
{"data":{"name":"last"},"mark":{"type":"rect","width":46,"height":15,"yOffset":-9,"color":"#3a6cf5"},
 "encoding":{"x":{"datum":171.7,"type":"quantitative","scale":{"domain":[-1.05,165.93],"nice":false,"zero":false},"axis":null},"y":{"field":"v","type":"quantitative","scale":{"domain":[8.9394,10.3453],"nice":false,"zero":false},"axis":null}}},
{"data":{"name":"last"},"mark":{"type":"text","fontSize":12,"fontWeight":"bold","color":"#ffffff","align":"center","baseline":"middle","dy":-9},
 "encoding":{"x":{"datum":171.7,"type":"quantitative","scale":{"domain":[-1.05,165.93],"nice":false,"zero":false},"axis":null},"y":{"field":"v","type":"quantitative","scale":{"domain":[8.9394,10.3453],"nice":false,"zero":false},"axis":null},"text":{"field":"t"}}}
]
}
